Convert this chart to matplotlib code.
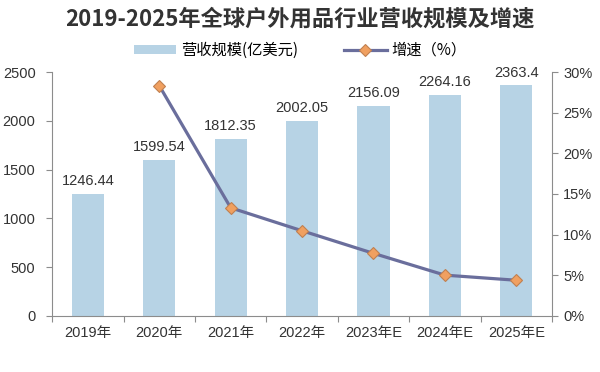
import matplotlib.pyplot as plt
from matplotlib.ticker import PercentFormatter

plt.rcParams['font.family'] = ['Noto Sans CJK SC', 'DejaVu Sans']

years = ['2019年', '2020年', '2021年', '2022年', '2023年E', '2024年E', '2025年E']
revenue = [1246.44, 1599.54, 1812.35, 2002.05, 2156.09, 2264.16, 2363.4]
growth = [None, 28.33, 13.30, 10.47, 7.69, 5.01, 4.38]

bar_color = '#b7d3e5'
line_color = '#6a6e9c'
grey = '#8c8c8c'

fig = plt.figure(figsize=(6, 3.72), dpi=100)
ax = fig.add_axes([0.087, 0.151, 0.833, 0.655])
ax2 = ax.twinx()

x = list(range(len(years)))
bars = ax.bar(x, revenue, width=0.45, color=bar_color, label='营收规模(亿美元)', zorder=2)
for xi, v in zip(x, revenue):
    ax.text(xi, v + 60, f'{v:g}', ha='center', va='bottom', fontsize=10.5, color='#333333',
            family=['Liberation Sans', 'DejaVu Sans'])

gx = [xi for xi, g in zip(x, growth) if g is not None]
gy = [g for g in growth if g is not None]
ax2.plot(gx, gy, color=line_color, lw=2.3, marker='D', ms=6.5,
         mfc='#f0a060', mec='#c08050', mew=0.8, label='增速（%）', zorder=3)

ax.set_xlim(-0.5, len(years) - 0.5)
ax.set_ylim(0, 2500)
ax.set_yticks(range(0, 2501, 500))
ax2.set_ylim(0, 30)
ax2.set_yticks(range(0, 31, 5))
ax2.yaxis.set_major_formatter(PercentFormatter(decimals=0))

# ticks sit between categories, labels in the middle
ax.set_xticks([i - 0.5 for i in range(len(years) + 1)], minor=False)
ax.set_xticklabels([])
ax.set_xticks(x, minor=True)
ax.set_xticklabels(years, minor=True)
ax.tick_params(axis='x', which='minor', length=0, pad=7)
ax.tick_params(axis='x', which='major', length=4, color=grey, direction='out')

for a in (ax, ax2):
    for s in a.spines.values():
        s.set_visible(False)
    a.tick_params(axis='y', length=4, color=grey, labelsize=10.5, labelcolor='#333333')
ax.tick_params(axis='x', which='minor', labelsize=10.5, labelcolor='#333333')
ax.spines['left'].set_visible(True)
ax.spines['left'].set_color(grey)
ax.spines['bottom'].set_visible(True)
ax.spines['bottom'].set_color(grey)
ax2.spines['right'].set_visible(True)
ax2.spines['right'].set_color(grey)
ax.tick_params(axis='y', pad=8)
ax2.tick_params(axis='y', pad=4)
for lab in ax.get_yticklabels() + ax2.get_yticklabels() + ax.get_xticklabels(minor=True):
    lab.set_family(['Liberation Sans', 'Noto Sans CJK SC'])

fig.text(0.5, 0.948, '2019-2025年全球户外用品行业营收规模及增速', ha='center', va='center',
         fontsize=16, fontweight='bold', color='#333333')

h1, l1 = ax.get_legend_handles_labels()
h2, l2 = ax2.get_legend_handles_labels()
fig.legend(h1 + h2, l1 + l2, loc='center', bbox_to_anchor=(0.5, 0.865), ncol=2,
           frameon=False, fontsize=11, handlelength=2.8, handleheight=0.5,
           columnspacing=3.0, handletextpad=0.3)

fig.savefig('out.png', dpi=100)
